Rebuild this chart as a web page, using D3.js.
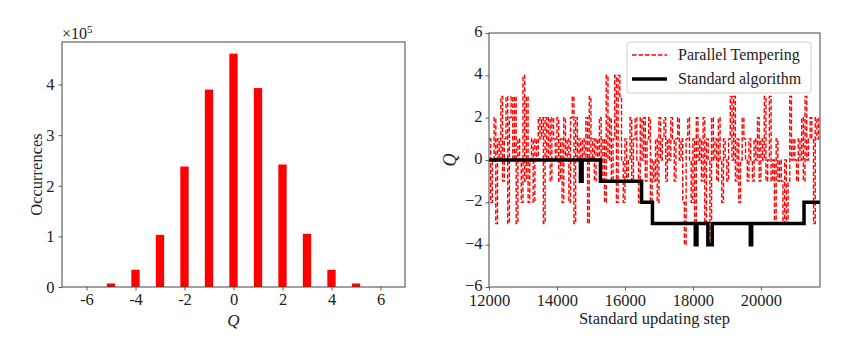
<!DOCTYPE html>
<html>
<head>
<meta charset="utf-8">
<script src="https://cdn.jsdelivr.net/npm/d3@7"></script>
<style>
  body { margin: 0; background: #fff; }
  svg text { font-family: "Liberation Serif", "DejaVu Serif", serif; fill: #222; }
  .tick line { stroke: #333; }
</style>
</head>
<body>
<div id="chart"></div>
<script>
// Histogram of the topological charge (occurrences in units of 1e5)
const qValues = [-6, -5, -4, -3, -2, -1, 0, 1, 2, 3, 4, 5, 6];
const occurrences = [0.002, 0.07, 0.34, 1.03, 2.38, 3.90, 4.61, 3.93, 2.42, 1.05, 0.34, 0.07, 0.002];
const histXTicks = [-6, -4, -2, 0, 2, 4, 6];
const histYTicks = [0, 1, 2, 3, 4];

// Parallel tempering history, one value every 50 steps from step 12000
const ptStart = 12000;
const ptEvery = 50;
const ptQ = [
    1, -2, 0, 2, -3, 1, 0, 3, -1, 1,
    3, -3, 2, 3, 0, 3, -3, 1, 0, -2,
    4, -1, 3, -2, 0, 1, -2, 1, 0, 2,
    1, 2, -3, 2, 0, 2, -1, 2, 1, 0,
    2, -1, 1, -2, 2, 0, 1, -2, 2, 3,
    -3, 2, 0, 1, -1, 1, 0, 2, -3, 3,
    0, 1, -1, 1, 0, 2, -1, 1, -2, 4,
    0, 2, -1, 1, 4, -2, 4, 3, 0, -2,
    1, -1, 0, 2, -1, 1, 2, 0, -2, 2,
    0, 2, -1, 1, 2, -2, 0, -1, 1, -2,
    2, 0, 1, 2, -1, 1, 0, 2, 1, -1,
    1, 2, 0, 1, -2, -4, 1, 2, 0, -2,
    1, -3, 2, 0, 1, -1, 2, -3, 1, 0,
    -4, 2, 0, 1, -1, 2, 0, -2, 1, 0,
    -1, 1, 3, 0, 3, -1, 1, -2, 0, 2,
    1, 0, -1, 1, 0, -1, 1, 0, 2, -1,
    1, 0, 3, -1, 0, 3, -1, 0, -3, 1,
    -1, 0, -1, -3, 0, -3, -1, 3, 0, 1,
    0, -1, 1, 0, 2, -1, 3, 0, 1, 2,
    1, -3, 2, 1, 2
];

// Standard algorithm history: step where Q changes, and the new value
const stdStep = [12000, 14690, 14740, 15280, 16490, 16810, 18070, 18120, 18440, 18570, 19690, 19730, 21270, 21740];
const stdQ = [0, -1, 0, -1, -2, -3, -4, -3, -4, -3, -4, -3, -2, -2];

const stepTicks = [12000, 14000, 16000, 18000, 20000];
const qTicks = [-6, -4, -2, 0, 2, 4, 6];

const width = 847, height = 345;
const svg = d3.select("#chart").append("svg")
    .attr("width", width)
    .attr("height", height)
    .attr("viewBox", [0, 0, width, height]);

const serif = "'Liberation Serif', 'DejaVu Serif', serif";
const tickFont = 16.5;
const labelFont = 16.5;

function styleAxis(g)
{
    g.select(".domain").remove();
    g.selectAll(".tick line").attr("stroke-width", 0.8);
    g.selectAll(".tick text")
        .style("font-size", tickFont + "px")
        .style("font-family", serif)
        .attr("fill", "#222");
}

// ---- left: histogram ----
const L = { left: 62, right: 405, top: 42, bottom: 287 };

const xHist = d3.scaleLinear().domain([-7, 7]).range([L.left, L.right]);
const yHist = d3.scaleLinear().domain([0, 4.84]).range([L.bottom, L.top]);
const barHalf = 0.17;

svg.append("g")
    .selectAll("rect")
    .data(qValues)
    .join("rect")
      .attr("x", d => xHist(d - barHalf))
      .attr("width", d => xHist(d + barHalf) - xHist(d - barHalf))
      .attr("y", (d, i) => yHist(occurrences[i]))
      .attr("height", (d, i) => yHist(0) - yHist(occurrences[i]))
      .attr("fill", "#ff0000");

svg.append("g")
    .attr("transform", `translate(0,${L.bottom})`)
    .call(d3.axisBottom(xHist).tickValues(histXTicks).tickFormat(d => `${d}`).tickSize(3.5).tickPadding(3))
    .call(styleAxis);

svg.append("g")
    .attr("transform", `translate(${L.left},0)`)
    .call(d3.axisLeft(yHist).tickValues(histYTicks).tickFormat(d => `${d}`).tickSize(3.5).tickPadding(4))
    .call(styleAxis);

svg.append("rect")
    .attr("x", L.left).attr("y", L.top)
    .attr("width", L.right - L.left).attr("height", L.bottom - L.top)
    .attr("fill", "none").attr("stroke", "#444").attr("stroke-width", 1);

const mult = svg.append("text")
    .attr("x", L.left)
    .attr("y", 39)
    .style("font-size", "16px");
mult.append("tspan").text("×10");
mult.append("tspan").style("font-size", "11px").attr("dy", -6).text("5");

svg.append("text")
    .attr("transform", `translate(42,${(L.top + L.bottom) / 2 + 10}) rotate(-90)`)
    .attr("text-anchor", "middle")
    .style("font-size", labelFont + "px")
    .text("Occurrences");

svg.append("text")
    .attr("x", xHist(0))
    .attr("y", 326)
    .attr("text-anchor", "middle")
    .style("font-size", "17px")
    .attr("font-style", "italic")
    .text("Q");

// ---- right: Monte Carlo history ----
const R = { left: 489, right: 820, top: 33, bottom: 287 };

const xStep = d3.scaleLinear().domain([12000, 21740]).range([R.left, R.right]);
const yQ = d3.scaleLinear().domain([-6, 6]).range([R.bottom, R.top]);

const ptData = ptQ.map((q, i) => [ptStart + i * ptEvery, q]);
const stdData = stdStep.map((s, i) => [s, stdQ[i]]);

const line = d3.line()
    .x(d => xStep(d[0]))
    .y(d => yQ(d[1]))
    .curve(d3.curveStepAfter);

const plot = svg.append("g");

plot.append("clipPath").attr("id", "clipR")
  .append("rect")
    .attr("x", R.left).attr("y", R.top)
    .attr("width", R.right - R.left).attr("height", R.bottom - R.top);

plot.append("path")
    .datum(ptData)
    .attr("clip-path", "url(#clipR)")
    .attr("d", line)
    .attr("fill", "none")
    .attr("stroke", "#ff0000")
    .attr("stroke-width", 1.4)
    .attr("stroke-dasharray", "4.5,2");

plot.append("path")
    .datum(stdData)
    .attr("clip-path", "url(#clipR)")
    .attr("d", line)
    .attr("fill", "none")
    .attr("stroke", "#000")
    .attr("stroke-width", 3.5);

svg.append("g")
    .attr("transform", `translate(0,${R.bottom})`)
    .call(d3.axisBottom(xStep).tickValues(stepTicks).tickFormat(d3.format("d")).tickSize(3.5).tickPadding(4))
    .call(styleAxis);

svg.append("g")
    .attr("transform", `translate(${R.left},0)`)
    .call(d3.axisLeft(yQ).tickValues(qTicks).tickSize(3.5).tickPadding(3))
    .call(styleAxis)
    .call(g => g.selectAll(".tick text").attr("dy", "0.22em"));

svg.append("rect")
    .attr("x", R.left).attr("y", R.top)
    .attr("width", R.right - R.left).attr("height", R.bottom - R.top)
    .attr("fill", "none").attr("stroke", "#444").attr("stroke-width", 1);

svg.append("text")
    .attr("x", (R.left + R.right) / 2)
    .attr("y", 324)
    .attr("text-anchor", "middle")
    .style("font-size", labelFont + "px")
    .text("Standard updating step");

svg.append("text")
    .attr("transform", `translate(456,${yQ(0)}) rotate(-90)`)
    .attr("text-anchor", "middle")
    .style("font-size", "18px")
    .attr("font-style", "italic")
    .text("Q");

// legend
const legend = svg.append("g").attr("transform", "translate(627,42)");
legend.append("rect")
    .attr("width", 184).attr("height", 51)
    .attr("rx", 3)
    .attr("fill", "rgba(255,255,255,0.8)")
    .attr("stroke", "#d0d0d0")
    .attr("stroke-width", 1);

const legendItems = [
    { label: "Parallel Tempering", color: "#ff0000", w: 1.4, dash: "4.5,2" },
    { label: "Standard algorithm", color: "#000", w: 3.5, dash: null }
];

legendItems.forEach((item, i) => {
    const y = 13 + i * 24;
    legend.append("line")
        .attr("x1", 5).attr("x2", 40)
        .attr("y1", y).attr("y2", y)
        .attr("stroke", item.color)
        .attr("stroke-width", item.w)
        .attr("stroke-dasharray", item.dash);
    legend.append("text")
        .attr("x", 51)
        .attr("y", y + 5)
        .style("font-size", "16px")
        .text(item.label);
});
</script>
</body>
</html>
